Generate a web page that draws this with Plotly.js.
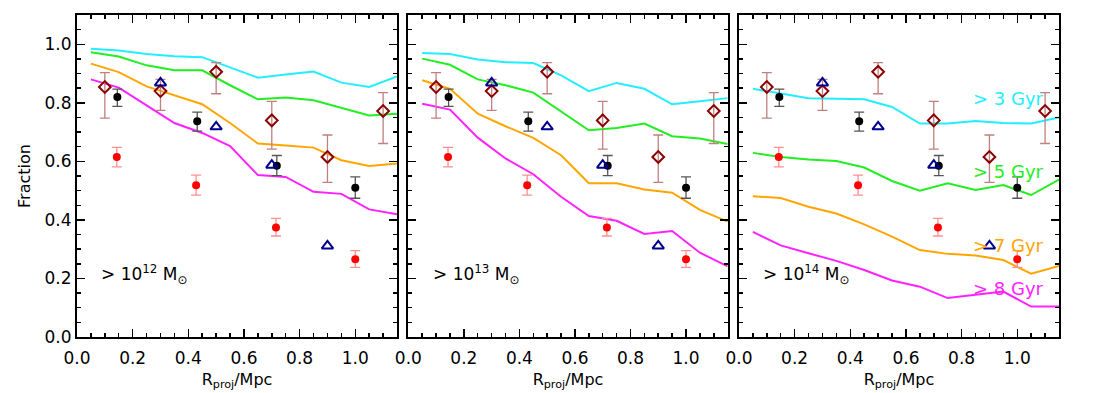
<!DOCTYPE html>
<html>
<head>
<meta charset="utf-8">
<script src="https://cdn.plot.ly/plotly-3.0.1.min.js"></script>
<style>
  html, body { margin: 0; padding: 0; background: #fff; }
  #chart { width: 1102px; height: 393px; }
</style>
</head>
<body>
<div id="chart"></div>
<script>
// bin centres of the model curves
const rBins = [0.05, 0.15, 0.25, 0.35, 0.45, 0.55, 0.65, 0.75, 0.85, 0.95, 1.05, 1.15];

// model fractions, one set per halo mass cut (> 3, 5, 7, 8 Gyr)
const p1Gyr3 = [0.985, 0.979, 0.967, 0.959, 0.956, 0.922, 0.886, 0.897, 0.907, 0.869, 0.854, 0.890];
const p1Gyr5 = [0.973, 0.958, 0.928, 0.911, 0.911, 0.860, 0.812, 0.818, 0.809, 0.784, 0.757, 0.763];
const p1Gyr7 = [0.934, 0.905, 0.856, 0.826, 0.795, 0.731, 0.661, 0.654, 0.647, 0.604, 0.584, 0.593];
const p1Gyr8 = [0.880, 0.852, 0.791, 0.731, 0.697, 0.652, 0.553, 0.547, 0.496, 0.489, 0.436, 0.419];

const p2Gyr3 = [0.970, 0.967, 0.948, 0.939, 0.936, 0.894, 0.840, 0.868, 0.848, 0.795, 0.805, 0.816];
const p2Gyr5 = [0.951, 0.930, 0.880, 0.860, 0.835, 0.772, 0.706, 0.714, 0.729, 0.686, 0.678, 0.659];
const p2Gyr7 = [0.877, 0.848, 0.763, 0.720, 0.680, 0.621, 0.525, 0.525, 0.504, 0.493, 0.434, 0.394];
const p2Gyr8 = [0.797, 0.777, 0.681, 0.610, 0.556, 0.479, 0.413, 0.397, 0.352, 0.362, 0.288, 0.241];

const p3Gyr3 = [0.848, 0.831, 0.816, 0.814, 0.812, 0.786, 0.729, 0.729, 0.738, 0.731, 0.729, 0.750];
const p3Gyr5 = [0.629, 0.615, 0.606, 0.601, 0.579, 0.533, 0.500, 0.525, 0.502, 0.519, 0.485, 0.538];
const p3Gyr7 = [0.481, 0.475, 0.445, 0.422, 0.385, 0.343, 0.297, 0.284, 0.278, 0.263, 0.216, 0.243];
const p3Gyr8 = [0.359, 0.313, 0.286, 0.260, 0.229, 0.193, 0.172, 0.133, 0.144, 0.155, 0.104, 0.104];

// observed points (same in every panel)
const redX = [0.143, 0.428, 0.715, 1.0];
const redY = [0.615, 0.518, 0.374, 0.266];
const redErrUp = [0.033, 0.035, 0.031, 0.029];
const redErrDown = [0.034, 0.033, 0.029, 0.028];

const blackX = [0.145, 0.432, 0.718, 1.0];
const blackY = [0.820, 0.737, 0.585, 0.510];
const blackErrUp = [0.027, 0.031, 0.035, 0.037];
const blackErrDown = [0.032, 0.034, 0.034, 0.036];

const triX = [0.30, 0.50, 0.70, 0.90];
const triY = [0.868, 0.718, 0.587, 0.311];

const diaX = [0.10, 0.30, 0.50, 0.70, 0.90, 1.10];
const diaY = [0.854, 0.840, 0.906, 0.740, 0.615, 0.772];
const diaErrUp = [0.049, 0.040, 0.031, 0.065, 0.075, 0.063];
const diaErrDown = [0.106, 0.066, 0.075, 0.098, 0.087, 0.111];

const massLabels = ['> 10<sup>12</sup> M<sub>⊙</sub>', '> 10<sup>13</sup> M<sub>⊙</sub>', '> 10<sup>14</sup> M<sub>⊙</sub>'];
const gyrLabels = ['> 3 Gyr', '> 5 Gyr', '> 7 Gyr', '> 8 Gyr'];
const gyrLabelY = [0.815, 0.564, 0.314, 0.165];

const COLORS = ['#22eeff', '#22ee22', '#ffa500', '#ff22ff'];
const FONT = 'DejaVu Sans, Liberation Sans, sans-serif';

const panels = [
  [p1Gyr3, p1Gyr5, p1Gyr7, p1Gyr8],
  [p2Gyr3, p2Gyr5, p2Gyr7, p2Gyr8],
  [p3Gyr3, p3Gyr5, p3Gyr7, p3Gyr8]
];

let traces = [];
panels.forEach(function (curves, i) {
  const xa = i === 0 ? 'x' : 'x' + (i + 1);
  const ya = i === 0 ? 'y' : 'y' + (i + 1);

  curves.forEach(function (vals, j) {
    traces.push({
      x: rBins, y: vals, xaxis: xa, yaxis: ya,
      mode: 'lines', line: {color: COLORS[j], width: 2}
    });
  });

  traces.push({
    x: redX, y: redY, xaxis: xa, yaxis: ya, mode: 'markers',
    marker: {color: '#ff0000', size: 8, symbol: 'circle'},
    error_y: {type: 'data', array: redErrUp, arrayminus: redErrDown, color: '#ff9090', thickness: 1.3, width: 5}
  });
  traces.push({
    x: blackX, y: blackY, xaxis: xa, yaxis: ya, mode: 'markers',
    marker: {color: '#000000', size: 8, symbol: 'circle'},
    error_y: {type: 'data', array: blackErrUp, arrayminus: blackErrDown, color: '#555555', thickness: 1.3, width: 5}
  });
  traces.push({
    x: diaX, y: diaY, xaxis: xa, yaxis: ya, mode: 'markers',
    marker: {color: '#8b0000', size: 9, symbol: 'diamond-open', line: {width: 2, color: '#8b0000'}},
    error_y: {type: 'data', array: diaErrUp, arrayminus: diaErrDown, color: '#c08080', thickness: 1.3, width: 5}
  });
  traces.push({
    x: triX, y: triY, xaxis: xa, yaxis: ya, mode: 'markers',
    marker: {color: '#000090', size: 10, symbol: 'triangle-up-open', line: {width: 2, color: '#000090'}}
  });
});

function xAxis(domain, anchor) {
  return {
    domain: domain, anchor: anchor, range: [0, 1.15],
    tickmode: 'linear', tick0: 0, dtick: 0.2, tickformat: '.1f',
    ticks: 'inside', ticklen: 8, tickwidth: 1.5, tickcolor: '#000',
    minor: {ticks: 'inside', dtick: 0.05, ticklen: 4, tickwidth: 1.5, tickcolor: '#000', showgrid: false},
    showline: true, linewidth: 2, linecolor: '#000', mirror: 'ticks',
    showgrid: false, zeroline: false, ticklabelstandoff: 5,
    tickfont: {family: FONT, size: 17, color: '#000'},
    title: {text: 'R<sub>proj</sub>/Mpc', font: {family: FONT, size: 16, color: '#000'}, standoff: 6}
  };
}

function yAxis(anchor, showLabels) {
  return {
    anchor: anchor, range: [0, 1.1],
    tickmode: 'linear', tick0: 0, dtick: 0.2, tickformat: '.1f',
    ticks: 'inside', ticklen: 8, tickwidth: 1.5, tickcolor: '#000',
    minor: {ticks: 'inside', dtick: 0.05, ticklen: 4, tickwidth: 1.5, tickcolor: '#000', showgrid: false},
    showline: true, linewidth: 2, linecolor: '#000', mirror: 'ticks',
    showgrid: false, zeroline: false, showticklabels: showLabels,
    tickfont: {family: FONT, size: 17, color: '#000'},
    title: showLabels ? {text: 'Fraction', font: {family: FONT, size: 16, color: '#000'}, standoff: 10} : {text: ''}
  };
}

let annotations = [];
massLabels.forEach(function (txt, i) {
  annotations.push({
    text: txt, x: 0.08, y: 0.212,
    xref: i === 0 ? 'x' : 'x' + (i + 1), yref: i === 0 ? 'y' : 'y' + (i + 1),
    xanchor: 'left', yanchor: 'middle', showarrow: false,
    font: {family: FONT, size: 17, color: '#000'}
  });
});
gyrLabels.forEach(function (txt, j) {
  annotations.push({
    text: txt, x: 0.835, y: gyrLabelY[j], xref: 'x3', yref: 'y3',
    xanchor: 'left', yanchor: 'middle', showarrow: false,
    font: {family: FONT, size: 18, color: COLORS[j]}
  });
});

const layout = {
  width: 1102, height: 393,
  margin: {l: 77, r: 43, t: 15, b: 56},
  showlegend: false,
  paper_bgcolor: '#fff', plot_bgcolor: '#fff',
  xaxis: xAxis([0, 0.3259], 'y'),
  xaxis2: xAxis([0.3374, 0.6626], 'y2'),
  xaxis3: xAxis([0.6741, 1], 'y3'),
  yaxis: yAxis('x', true),
  yaxis2: yAxis('x2', false),
  yaxis3: yAxis('x3', false),
  annotations: annotations
};

Plotly.newPlot('chart', traces, layout, {displayModeBar: false, staticPlot: true});
</script>
</body>
</html>
